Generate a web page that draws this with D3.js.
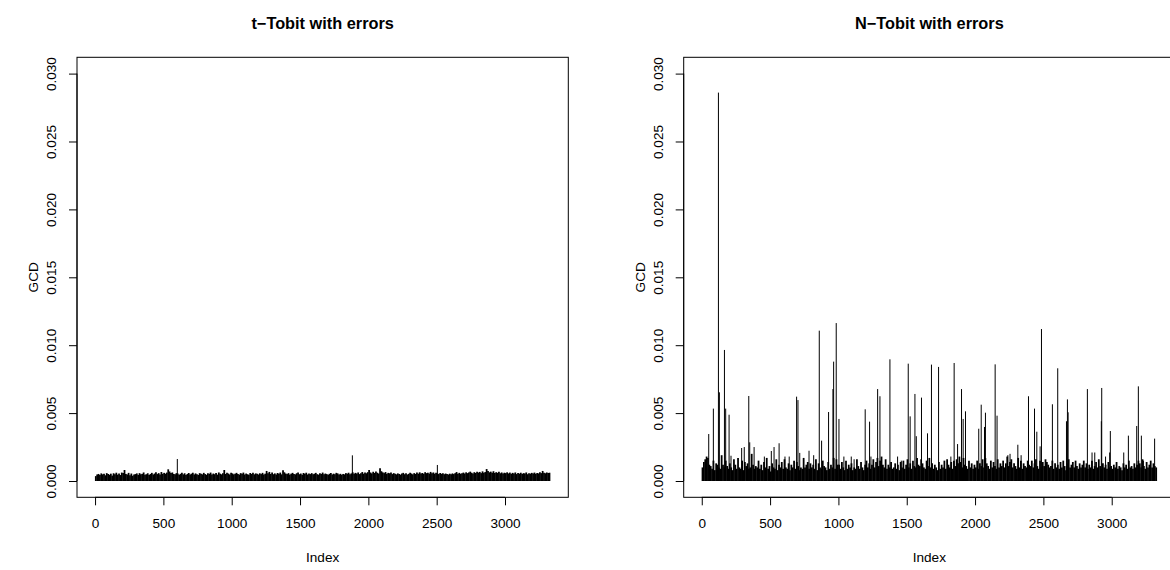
<!DOCTYPE html>
<html>
<head>
<meta charset="utf-8">
<script src="https://cdn.jsdelivr.net/npm/d3@7"></script>
<style>
  html, body { margin: 0; padding: 0; background: #fff; }
  svg { display: block; }
  text { font-family: "Liberation Sans", Arial, Helvetica, sans-serif; fill: #000; }
</style>
</head>
<body>
<svg id="chart" width="1170" height="570"></svg>
<script>
// ---- data -------------------------------------------------------------
const panelTitles = ["t\u2212Tobit with errors", "N\u2212Tobit with errors"];
const xLabel = "Index";
const yLabel = "GCD";
const indexTicks = [0, 500, 1000, 1500, 2000, 2500, 3000];
const gcdTicks = [0, 0.005, 0.010, 0.015, 0.020, 0.025, 0.030];
const gcdLimits = [0, 0.030];
const nObs = 3330;
const blockSize = 10;   // observations summarised by each band value

// t-Tobit: largest GCD within each run of 10 observations (units of 1e-4)
const tBandE4 = [
  3.6,4.8,5.2,4.5,5.6,4.9,5.3,4.2,5.8,5.1,4.6,5.4,4.0,5.7,5.0,6.1,4.7,5.5,4.4,6.2,
  5.9,8.1,5.2,4.8,6.0,4.3,5.5,3.9,4.7,5.1,5.6,4.5,5.8,4.9,5.3,6.3,4.6,5.0,5.7,4.4,
  5.2,6.0,4.8,5.5,6.4,5.1,5.8,4.7,6.6,5.3,6.0,5.4,6.2,8.6,7.0,5.9,6.3,5.2,4.9,5.8,
  5.5,4.6,5.3,6.0,4.9,5.7,4.4,5.2,5.9,4.7,5.4,6.1,4.8,5.6,5.0,4.5,5.8,5.3,4.9,6.0,
  5.1,4.6,5.7,5.3,6.2,4.8,5.5,5.0,5.9,4.7,6.3,5.4,4.9,5.8,8.1,5.2,6.0,5.5,4.8,6.1,
  5.6,4.9,5.4,6.0,5.1,4.7,5.8,5.3,6.2,4.8,5.5,5.0,4.6,5.9,5.2,6.1,4.9,5.6,5.3,4.8,
  5.7,5.1,6.0,4.7,5.4,7.4,5.8,6.7,5.2,6.3,5.0,5.6,4.8,5.9,5.3,6.2,4.9,8.0,6.4,5.5,
  5.1,5.8,4.7,5.4,6.0,5.2,4.9,5.7,6.3,5.0,5.5,4.6,5.9,5.3,6.1,4.8,5.6,5.1,5.8,4.9,
  5.4,6.0,5.0,4.7,5.7,5.2,6.2,4.9,5.5,5.1,4.6,5.3,5.9,4.8,5.4,5.0,6.0,5.6,4.7,5.3,
  4.6,5.2,4.9,5.8,5.4,6.1,5.0,5.6,6.4,5.3,6.0,5.5,6.3,5.1,5.8,6.6,5.4,6.2,5.7,6.5,
  8.1,6.3,5.6,6.8,5.9,7.0,6.1,5.5,9.3,7.2,6.4,5.8,6.6,5.3,6.0,5.7,6.2,5.1,5.8,5.4,
  4.9,5.6,5.2,4.7,5.5,6.0,5.0,5.7,4.8,5.3,6.1,5.5,4.9,5.8,5.2,6.2,5.4,6.4,5.6,5.9,
  5.3,6.5,5.8,6.1,5.5,6.7,5.7,6.3,5.4,6.0,5.6,5.1,5.9,5.3,5.7,5.0,5.5,5.2,4.8,5.4,
  4.9,5.6,5.1,5.8,6.6,5.4,6.0,5.3,5.7,6.2,5.5,6.4,5.8,6.3,6.9,6.1,5.6,6.5,5.9,6.8,
  6.2,6.7,5.8,7.1,6.0,6.6,8.8,7.3,6.4,6.9,6.1,7.2,5.9,6.5,6.0,6.8,5.7,6.3,5.5,6.1,
  5.8,6.4,5.6,6.2,5.3,6.0,5.5,6.3,5.1,5.9,5.4,6.1,5.2,5.8,5.6,6.3,5.0,5.7,5.4,6.0,
  5.5,6.2,5.3,5.9,5.6,6.4,5.8,7.4,6.0,5.7,6.3,5.9,6.1
];
// t-Tobit: isolated larger values
const tSpikeIndex = [602, 1883, 2505];
const tSpikeGcd   = [0.00162, 0.00189, 0.00118];

// N-Tobit: largest GCD within each run of 10 observations (units of 1e-4)
const nBandE4 = [
  10,14,16,18,17,12,11,9,15,8,13,12,10,9,19,12,10,15,11,9,
  13,10,8,16,12,9,17,10,9,15,8,14,11,13,9,10,20,12,9,11,
  10,15,9,12,8,14,10,17,9,11,7,13,10,9,16,8,12,10,14,9,
  16,10,9,13,8,12,10,15,9,14,11,8,10,9,17,10,12,14,9,13,
  10,12,9,16,8,13,10,9,15,11,10,8,14,9,12,10,17,9,16,12,
  12,9,14,10,8,15,9,12,10,13,8,10,9,16,11,9,14,10,8,12,
  15,10,13,9,12,16,10,14,17,11,15,18,12,10,16,9,12,10,14,9,
  10,13,9,12,8,14,10,15,9,12,16,10,13,9,15,11,10,17,12,11,
  16,13,10,9,15,11,17,10,13,9,12,10,8,14,9,12,10,15,9,16,
  12,10,14,9,15,11,16,13,18,14,10,17,12,11,9,15,10,13,9,12,
  10,15,9,13,11,16,10,17,13,11,9,15,10,14,11,9,16,10,13,11,
  15,10,13,18,11,14,16,10,13,11,9,17,10,15,9,13,11,10,15,12,
  11,15,10,13,16,11,9,15,10,14,11,16,14,12,10,11,15,9,13,10,
  12,9,14,10,15,11,8,13,16,10,12,14,10,15,11,9,13,10,12,15,
  10,13,9,12,10,15,9,11,14,10,16,11,9,13,10,12,9,14,10,11,
  9,12,10,14,9,11,10,8,13,10,12,9,15,10,11,9,13,10,12,15,
  13,10,16,11,9,14,10,12,15,10,13,11,10
];
// N-Tobit: isolated larger values
const nSpikeIndex = [
  51, 85, 122, 129, 166, 175, 200, 214, 292, 311, 344, 351, 383, 458, 509, 529, 566, 609, 640,
  694, 704, 717, 785, 819, 860, 877, 928, 960, 965, 984, 1004, 1040, 1094, 1115, 1196, 1228,
  1238, 1287, 1304, 1377, 1433, 1460, 1511, 1525, 1560, 1570, 1608, 1652, 1681, 1733, 1823,
  1847, 1872, 1901, 1913, 1930, 2027, 2045, 2069, 2076, 2147, 2161, 2240, 2256, 2313, 2337,
  2391, 2435, 2452, 2476, 2486, 2566, 2605, 2669, 2676, 2681, 2822, 2856, 2876, 2924, 2927,
  2955, 2985, 2990, 3088, 3122, 3183, 3195, 3217, 3232, 3314
];
const nSpikeGcd = [
  0.00346, 0.00533, 0.02860, 0.00653, 0.00965, 0.00533, 0.00488, 0.00186, 0.00243, 0.00250,
  0.00626, 0.00285, 0.00250, 0.00180, 0.00221, 0.00250, 0.00278, 0.00180, 0.00180,
  0.00621, 0.00596, 0.00207, 0.00223, 0.00190, 0.01107, 0.00297, 0.00508, 0.00677, 0.00879,
  0.01163, 0.00457, 0.00180, 0.00180, 0.00160, 0.00528, 0.00437,
  0.00180, 0.00677, 0.00624, 0.00896, 0.00180, 0.00150, 0.00864, 0.00476, 0.00641, 0.00330,
  0.00614, 0.00351, 0.00857, 0.00840, 0.00180,
  0.00869, 0.00272, 0.00677, 0.00457, 0.00513, 0.00385, 0.00562, 0.00398, 0.00503, 0.00859,
  0.00481, 0.00190, 0.00200, 0.00267, 0.00190,
  0.00624, 0.00533, 0.00363, 0.00255, 0.01119, 0.00565, 0.00830, 0.00440, 0.00601, 0.00506,
  0.00677, 0.00210, 0.00210, 0.00440, 0.00685,
  0.00180, 0.00210, 0.00368, 0.00210, 0.00334, 0.00405, 0.00697, 0.00334, 0.00150, 0.00312
];

// ---- layout -----------------------------------------------------------
const plotLeft = [77, 683.7];
const plotWidth = 491.3;
const plotTop = 57.3;
const plotBottom = 497.3;
const baseFont = 13.6;

const svg = d3.select("#chart");

function drawPanel(p, title, bandE4, spikeIndex, spikeGcd) {
  const x0 = plotLeft[p], x1 = x0 + plotWidth;

  // R-style 4% padding around the data range
  const xPad = 0.04 * (nObs - 1);
  const x = d3.scaleLinear().domain([1 - xPad, nObs + xPad]).range([x0, x1]);
  const yPad = 0.04 * (gcdLimits[1] - gcdLimits[0]);
  const y = d3.scaleLinear().domain([gcdLimits[0] - yPad, gcdLimits[1] + yPad]).range([plotBottom, plotTop]);

  const g = svg.append("g");

  // dense band of block maxima, drawn as slightly overlapping vertical lines
  const bandW = (x(1 + blockSize) - x(1)) * 1.3;
  g.append("g").selectAll("line").data(bandE4).join("line")
    .attr("x1", (d, i) => x(i * blockSize + (blockSize + 1) / 2))
    .attr("x2", (d, i) => x(i * blockSize + (blockSize + 1) / 2))
    .attr("y1", y(0))
    .attr("y2", d => y(d * 1e-4))
    .attr("stroke", "#000")
    .attr("stroke-width", bandW);

  // isolated spikes (type = "h")
  g.append("g").selectAll("line").data(spikeIndex).join("line")
    .attr("x1", d => x(d)).attr("x2", d => x(d))
    .attr("y1", y(0))
    .attr("y2", (d, i) => y(spikeGcd[i]))
    .attr("stroke", "#000")
    .attr("stroke-width", 1);

  // frame
  g.append("rect")
    .attr("x", x0).attr("y", plotTop)
    .attr("width", plotWidth).attr("height", plotBottom - plotTop)
    .attr("fill", "none").attr("stroke", "#000").attr("stroke-width", 1);

  // x axis
  const xAxis = d3.axisBottom(x).tickValues(indexTicks).tickSize(8).tickPadding(8)
    .tickFormat(d3.format("d"));
  const gx = g.append("g").attr("transform", `translate(0,${plotBottom})`).call(xAxis);
  gx.select(".domain").attr("d", `M${x(indexTicks[0])},0H${x(indexTicks[indexTicks.length - 1])}`);
  gx.selectAll("text").attr("font-size", baseFont).attr("font-family", null)
    .attr("y", 30.5).attr("dy", null);

  // y axis
  const yAxis = d3.axisLeft(y).tickValues(gcdTicks).tickSize(8).tickFormat(d3.format(".3f"));
  const gy = g.append("g").attr("transform", `translate(${x0},0)`).call(yAxis);
  gy.select(".domain").attr("d", `M0,${y(gcdTicks[0])}V${y(gcdTicks[gcdTicks.length - 1])}`);
  gy.selectAll("text")
    .attr("font-size", baseFont).attr("font-family", null)
    .attr("x", null).attr("dy", null)
    .attr("text-anchor", "middle")
    .attr("transform", "translate(-25.3,0) rotate(-90)")
    .attr("y", 0).attr("dominant-baseline", "central");
  svg.selectAll(".tick line").attr("stroke", "#000");
  svg.selectAll(".domain").attr("stroke", "#000");

  // titles
  g.append("text")
    .attr("x", (x0 + x1) / 2).attr("y", 29)
    .attr("text-anchor", "middle")
    .attr("font-size", baseFont * 1.2).attr("font-weight", "bold")
    .text(title);
  g.append("text")
    .attr("x", (x0 + x1) / 2).attr("y", 561.5)
    .attr("text-anchor", "middle")
    .attr("font-size", baseFont)
    .text(xLabel);
  g.append("text")
    .attr("transform", `translate(${x0 - 39},${(plotTop + plotBottom) / 2}) rotate(-90)`)
    .attr("text-anchor", "middle")
    .attr("font-size", baseFont)
    .text(yLabel);
}

drawPanel(0, panelTitles[0], tBandE4, tSpikeIndex, tSpikeGcd);
drawPanel(1, panelTitles[1], nBandE4, nSpikeIndex, nSpikeGcd);
</script>
</body>
</html>
